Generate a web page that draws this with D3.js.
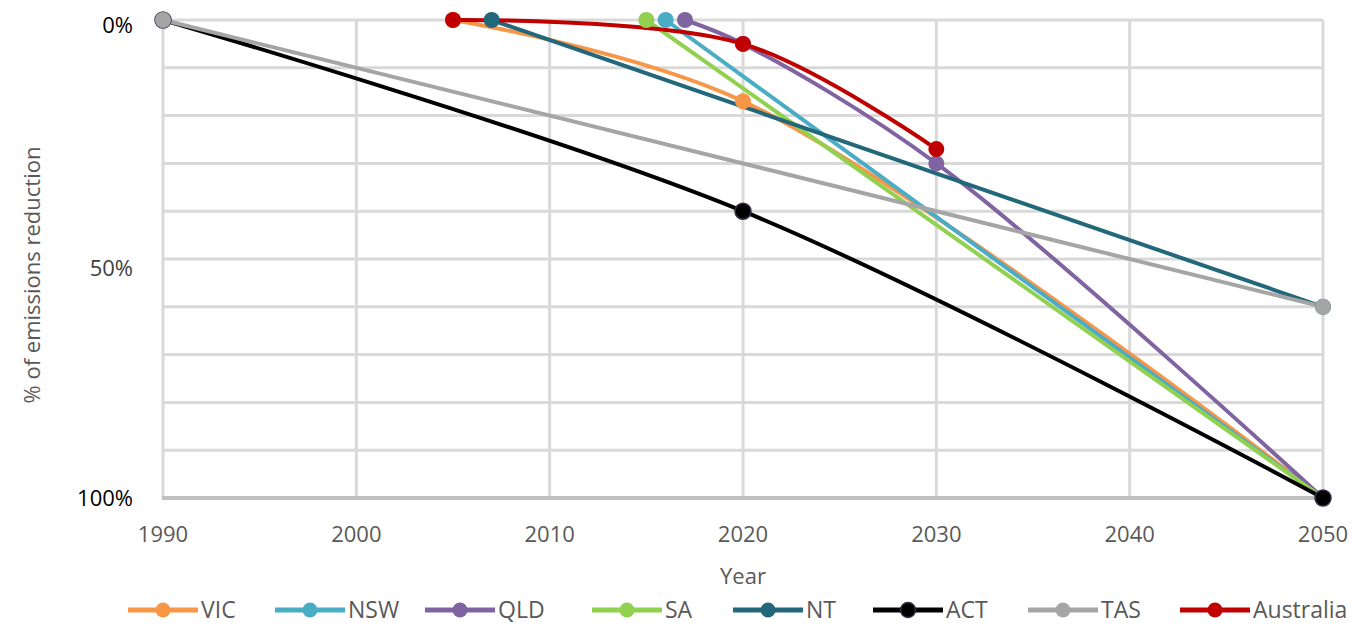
<!DOCTYPE html>
<html><head><meta charset="utf-8">
<script src="https://cdn.jsdelivr.net/npm/d3@7"></script>
<style>body{margin:0;background:#fff}svg{display:block}</style>
</head><body>
<svg id="c" width="1356" height="626"></svg>
<script>
const seriesNames = ["VIC","NSW","QLD","SA","NT","ACT","TAS","Australia"];
const seriesColors = ["#F79646","#4BACC6","#8064A2","#92D050","#23687A","#000000","#A5A5A5","#C00000"];
const VIC = [[2005,0],[2020,0.17],[2050,1]];
const NSW = [[2016,0],[2050,1]];
const QLD = [[2017,0],[2020,0.05],[2030,0.30],[2050,1]];
const SA = [[2015,0],[2050,1]];
const NT = [[2007,0],[2050,0.60]];
const ACT = [[1990,0],[2020,0.40],[2050,1]];
const TAS = [[1990,0],[2050,0.60]];
const Australia = [[2005,0],[2020,0.05],[2030,0.27]];
const seriesData = [VIC,NSW,QLD,SA,NT,ACT,TAS,Australia];
const xTicks = [1990,2000,2010,2020,2030,2040,2050];
const yGrid = [0,0.1,0.2,0.3,0.4,0.5,0.6,0.7,0.8,0.9,1];
const yTickLabels = [[0,"0%"],[0.5,"50%"],[1,"100%"]];

const svg = d3.select("#c");
const x = d3.scaleLinear().domain([1990,2050]).range([163,1323]);
const y = d3.scaleLinear().domain([0,1]).range([20,498]);

// gridlines
svg.append("g").selectAll("line").data(yGrid.slice(0,-1)).join("line")
  .attr("x1",x(1990)).attr("x2",x(2050)).attr("y1",d=>y(d)).attr("y2",d=>y(d))
  .attr("stroke","#D9D9D9").attr("stroke-width",3);
svg.append("g").selectAll("line").data(xTicks).join("line")
  .attr("x1",d=>x(d)).attr("x2",d=>x(d)).attr("y1",y(0)).attr("y2",y(1))
  .attr("stroke","#D9D9D9").attr("stroke-width",3);
svg.append("line").attr("x1",x(1990)-1).attr("x2",x(2050)+1).attr("y1",y(1)).attr("y2",y(1))
  .attr("stroke","#BFBFBF").attr("stroke-width",4);

// axes labels
const font = "'Open Sans', sans-serif";
svg.append("g").selectAll("text").data(xTicks).join("text")
  .attr("x",d=>x(d)).attr("y",542).attr("text-anchor","middle")
  .attr("font-family",font).attr("font-size",22).attr("fill","#595959").text(d=>d);
svg.append("g").selectAll("text").data(yTickLabels).join("text")
  .attr("x",133).attr("y",(d,i)=>y(d[0])+(i==0?13:i==1?17:8)).attr("text-anchor","end")
  .attr("font-family",font).attr("font-size",22).attr("fill",(d,i)=>i==1?"#404040":"#000").text(d=>d[1]);
svg.append("text").attr("x",743).attr("y",584).attr("text-anchor","middle")
  .attr("font-family",font).attr("font-size",22).attr("fill","#595959").text("Year");
svg.append("text").attr("transform","translate(40,275) rotate(-90)").attr("text-anchor","middle")
  .attr("font-family",font).attr("font-size",22).attr("fill","#595959").text("% of emissions reduction");

// lines
const line = d3.line().x(d=>x(d[0])).y(d=>y(d[1])).curve(d3.curveCatmullRom);
const g = svg.append("g");
seriesData.forEach((data,i)=>{
  g.append("path").datum(data).attr("d",line).attr("fill","none")
   .attr("stroke",seriesColors[i]).attr("stroke-width",4).attr("stroke-linecap","round");
});
seriesData.forEach((data,i)=>{
  g.append("g").selectAll("circle").data(data).join("circle")
   .attr("cx",d=>x(d[0])).attr("cy",d=>y(d[1])).attr("r",8)
   .attr("fill",seriesColors[i]).attr("stroke",i==5?"#3a2a4a":"none").attr("stroke-width",1.5);
});

// legend
const legX = [128,275,425,592,733,873,1028,1180];
const lg = svg.append("g");
seriesNames.forEach((n,i)=>{
  const lx = legX[i];
  lg.append("line").attr("x1",lx).attr("x2",lx+70).attr("y1",610).attr("y2",610)
    .attr("stroke",seriesColors[i]).attr("stroke-width",5);
  lg.append("circle").attr("cx",lx+35).attr("cy",610).attr("r",7.5).attr("fill",seriesColors[i])
    .attr("stroke",i==5?"#3a2a4a":"none").attr("stroke-width",1.5);
  lg.append("text").attr("x",lx+73).attr("y",618).attr("font-family",font)
    .attr("font-size",23).attr("fill","#595959").text(n);
});
</script>
</body></html>
